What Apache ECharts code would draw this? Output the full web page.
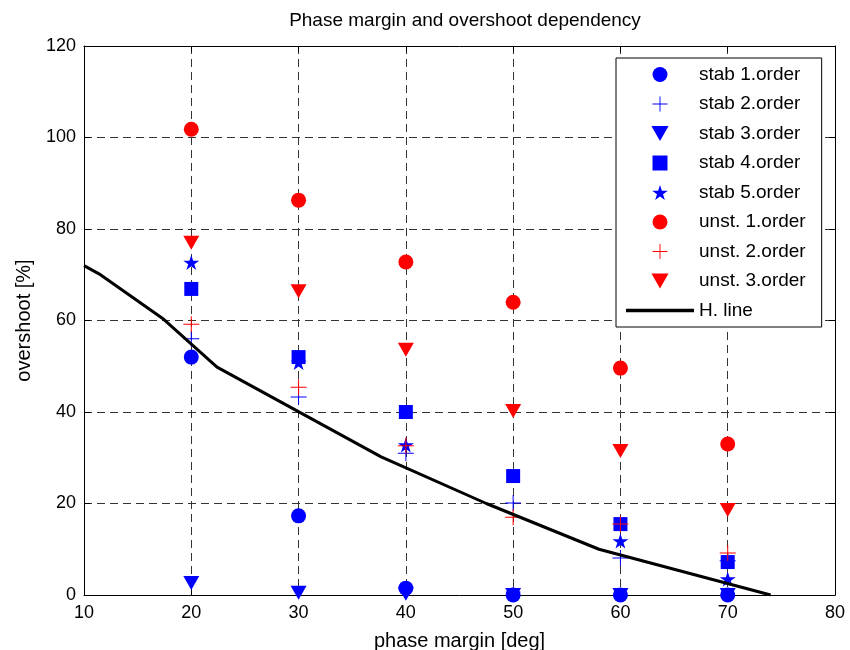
<!DOCTYPE html>
<html>
<head>
<meta charset="utf-8">
<script src="https://cdn.jsdelivr.net/npm/echarts@6/dist/echarts.min.js"></script>
<style>html,body{margin:0;background:#fff}#chart{width:850px;height:650px}</style>
</head>
<body>
<div id="chart"></div>
<script>
// data
const phaseMargin = [20, 30, 40, 50, 60, 70];
const stab1 = [52, 17.3, 1.5, 0, 0, 0];
const stab2 = [56, 43.3, 31, 20.1, 8.1, 7.5];
const stab3 = [2.6, 0.5, 0.3, 0, 0, 0];
const stab4 = [66.9, 52, 40, 26, 15.5, 7.2];
const stab5 = [72.7, 50.8, 32.8, 0.3, 11.8, 3.5];
const unst1 = [101.8, 86.3, 72.8, 64, 49.6, 33];
const unst2 = [59.2, 45.4, 32.6, 17, 15.5, 9.2];
const unst3 = [77, 66.4, 53.6, 40.2, 31.5, 18.6];
const hLineX = [10, 11.4, 17.3, 22.4, 37.7, 47.5, 58, 74];
const hLineY = [72, 70.2, 60.5, 49.8, 30.2, 20, 10, 0];
const xTicks = [10, 20, 30, 40, 50, 60, 70, 80];
const yTicks = [0, 20, 40, 60, 80, 100, 120];

const FONT = 'Liberation Sans, Arial, sans-serif';
const BLUE = '#0000ff', RED = '#ff0000';

//marker shapes
const PLUS = 'path://M0,7.5 H16 V8.5 H0 Z M7.5,0 H8.5 V16 H7.5 Z';
const TRI_DOWN = 'path://M0,0 L16,0 L8,14 Z';
const SQUARE = 'path://M0,0 H14 V14 H0 Z';
const STAR = 'path://M0,-100 L22.5,-30.9 L95.1,-30.9 L36.3,11.8 L58.8,80.9 L0,38.2 L-58.8,80.9 L-36.3,11.8 L-95.1,-30.9 L-22.5,-30.9 Z';
const LINE_ICON = 'path://M0,0 H62 V3 H0 Z';

const pts = ys => phaseMargin.map((x, i) => [x, ys[i]]);

const scatter = (name, ys, symbol, size, color) => ({
    name: name,
    type: 'scatter',
    data: pts(ys),
    symbol: symbol,
    symbolSize: size,
    clip: false,
    itemStyle: {color: color, opacity: 1},
    emphasis: {disabled: true}
});

const chart = echarts.init(document.getElementById('chart'));

const axisCommon = {
    type: 'value',
    axisLine: {show: true, onZero: false, lineStyle: {color: '#000', width: 1}},
    axisTick: {show: true, inside: true, length: 6, lineStyle: {color: '#000'}},
};

const options = {
    animation: false,
    backgroundColor: '#fff',
    title: {
        text: 'Phase margin and overshoot dependency',
        left: 460,
        textAlign: 'center',
        top: 6,
        textStyle: {fontFamily: FONT, fontSize: 19, fontWeight: 'normal', color: '#000'}
    },
    grid: {left: 84, top: 46, width: 751, height: 549, containLabel: false, outerBoundsMode: 'none'},
    xAxis: [
        Object.assign({}, axisCommon, {
            position: 'bottom',
            min: xTicks[0], max: xTicks[xTicks.length - 1], interval: xTicks[1] - xTicks[0],
            name: 'phase margin [deg]',
            nameLocation: 'middle',
            nameGap: 36,
            nameTextStyle: {fontFamily: FONT, fontSize: 20, color: '#000'},
            axisLabel: {margin: 9, fontFamily: FONT, fontSize: 18, color: '#000'},
            splitLine: {show: true, lineStyle: {color: '#333', type: [8, 5], width: 1}}
        }),
        Object.assign({}, axisCommon, {
            position: 'top',
            min: xTicks[0], max: xTicks[xTicks.length - 1], interval: xTicks[1] - xTicks[0],
            axisLabel: {show: false},
            splitLine: {show: false}
        })
    ],
    yAxis: [
        Object.assign({}, axisCommon, {
            position: 'left',
            min: yTicks[0], max: yTicks[yTicks.length - 1], interval: yTicks[1] - yTicks[0],
            name: 'overshoot [%]',
            nameLocation: 'middle',
            nameGap: 50,
            nameTextStyle: {fontFamily: FONT, fontSize: 20, color: '#000'},
            axisLabel: {margin: 8, fontFamily: FONT, fontSize: 18, color: '#000'},
            splitLine: {show: true, lineStyle: {color: '#333', type: [8, 5], width: 1}}
        }),
        Object.assign({}, axisCommon, {
            position: 'right',
            min: yTicks[0], max: yTicks[yTicks.length - 1], interval: yTicks[1] - yTicks[0],
            axisLabel: {show: false},
            splitLine: {show: false}
        })
    ],
    legend: {
        orient: 'vertical',
        left: 616,
        top: 58,
        padding: [7, 16, 7, 10],
        itemGap: 10.5,
        itemWidth: 68,
        itemHeight: 15,
        backgroundColor: '#fff',
        borderColor: '#000',
        borderWidth: 1,
        borderRadius: 0,
        selectedMode: false,
        textStyle: {fontFamily: FONT, fontSize: 19, color: '#000'},
        data: [
            {name: 'stab 1.order'},
            {name: 'stab 2.order'},
            {name: 'stab 3.order'},
            {name: 'stab 4.order'},
            {name: 'stab 5.order'},
            {name: 'unst. 1.order'},
            {name: 'unst. 2.order'},
            {name: 'unst. 3.order'},
            {name: 'H. line', icon: LINE_ICON}
        ]
    },
    series: [
        scatter('stab 1.order', stab1, 'circle', 15, BLUE),
        scatter('stab 2.order', stab2, PLUS, 16, BLUE),
        scatter('stab 3.order', stab3, TRI_DOWN, [16, 14], BLUE),
        scatter('stab 4.order', stab4, SQUARE, 14, BLUE),
        scatter('stab 5.order', stab5, STAR, [16, 15], BLUE),
        scatter('unst. 1.order', unst1, 'circle', 15, RED),
        scatter('unst. 2.order', unst2, PLUS, 16, RED),
        scatter('unst. 3.order', unst3, TRI_DOWN, [16, 14], RED),
        {
            name: 'H. line',
            type: 'line',
            data: hLineX.map((x, i) => [x, hLineY[i]]),
            symbol: 'none',
            lineStyle: {color: '#000', width: 3},
            itemStyle: {color: '#000'},
            emphasis: {disabled: true},
            z: 3
        }
    ]
};

chart.setOption(options);
</script>
</body>
</html>
